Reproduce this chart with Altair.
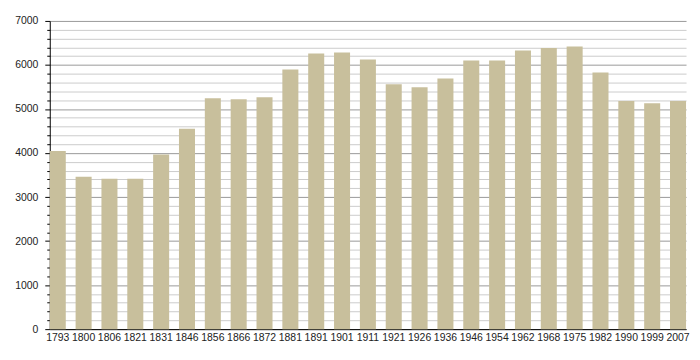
import altair as alt
import pandas as pd

years = ["1793", "1800", "1806", "1821", "1831", "1846", "1856", "1866", "1872",
         "1881", "1891", "1901", "1911", "1921", "1926", "1936", "1946", "1954",
         "1962", "1968", "1975", "1982", "1990", "1999", "2007"]
population = [4047, 3460, 3415, 3415, 3964, 4551, 5244, 5221, 5266,
              5898, 6260, 6282, 6124, 5560, 5492, 5695, 6101, 6101,
              6327, 6388, 6418, 5831, 5183, 5131, 5183]
y_ticks = list(range(0, 7001, 200))

df = pd.DataFrame({"year": years, "population": population})

chart = alt.Chart(df).mark_bar(color="#C8BF9C").encode(
    x=alt.X("year:N", sort=None, title=None,
            scale=alt.Scale(paddingInner=0.38, paddingOuter=0),
            axis=alt.Axis(labelAngle=0, ticks=False, labelPadding=3,
                          domainColor="#000", labelFont="Liberation Sans",
                          labelFontSize=10.5, labelColor="#222")),
    y=alt.Y("population:Q", title=None,
            scale=alt.Scale(domain=[0, 7000], nice=False),
            axis=alt.Axis(values=y_ticks,
                          labelExpr="datum.value % 1000 === 0 ? datum.value : ''",
                          grid=True,
                          gridColor=alt.expr("datum.value % 1000 === 0 ? '#999999' : '#cccccc'"),
                          gridWidth=1,
                          tickSize=alt.expr("datum.value % 1000 === 0 ? 5 : 3"),
                          tickColor="#000", domainColor="#000",
                          labelPadding=7, labelFont="Liberation Sans",
                          labelFontSize=10.5, labelColor="#222")),
).properties(
    width=640, height=310,
    autosize=alt.AutoSizeParams(type="none"),
    padding={"left": 42, "top": 12, "right": 6, "bottom": 22},
).configure_view(stroke=None)

chart.save("out.html", embed_options={"renderer": "svg", "actions": False})
